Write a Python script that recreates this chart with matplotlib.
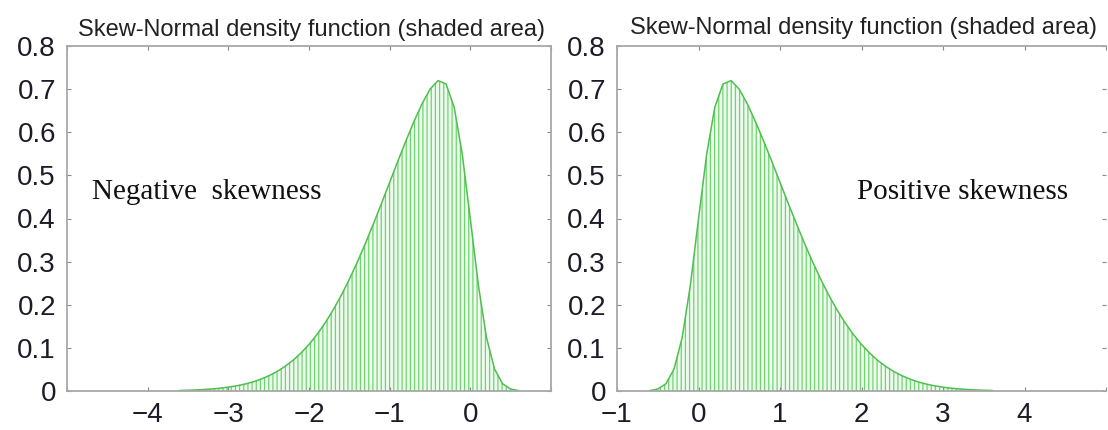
import matplotlib
matplotlib.use("Agg")
import matplotlib.pyplot as plt

# ---- data ----
x_pos = [-0.6, -0.5, -0.4, -0.3, -0.2, -0.1, 0.0, 0.1, 0.2, 0.3, 0.4, 0.5, 0.6, 0.7,
         0.8, 0.9, 1.0, 1.1, 1.2, 1.3, 1.4, 1.5, 1.6, 1.7, 1.8, 1.9, 2.0, 2.1, 2.2,
         2.3, 2.4, 2.5, 2.6, 2.7, 2.8, 2.9, 3.0, 3.1, 3.2, 3.3, 3.4, 3.5, 3.6]
y_pos = [0.0009, 0.0044, 0.0168, 0.0510, 0.1241, 0.2450, 0.3989, 0.5489, 0.6580,
         0.7118, 0.7198, 0.6998, 0.6655, 0.6244, 0.5794, 0.5322, 0.4839, 0.4357,
         0.3884, 0.3427, 0.2995, 0.2590, 0.2218, 0.1881, 0.1579, 0.1312, 0.1080,
         0.0880, 0.0709, 0.0567, 0.0448, 0.0351, 0.0272, 0.0208, 0.0158, 0.0119,
         0.0089, 0.0065, 0.0048, 0.0034, 0.0025, 0.0017, 0.0012]

x_neg = [-3.6, -3.5, -3.4, -3.3, -3.2, -3.1, -3.0, -2.9, -2.8, -2.7, -2.6, -2.5, -2.4,
         -2.3, -2.2, -2.1, -2.0, -1.9, -1.8, -1.7, -1.6, -1.5, -1.4, -1.3, -1.2, -1.1,
         -1.0, -0.9, -0.8, -0.7, -0.6, -0.5, -0.4, -0.3, -0.2, -0.1, 0.0, 0.1, 0.2,
         0.3, 0.4, 0.5, 0.6]
y_neg = [0.0012, 0.0017, 0.0025, 0.0034, 0.0048, 0.0065, 0.0089, 0.0119, 0.0158,
         0.0208, 0.0272, 0.0351, 0.0448, 0.0567, 0.0709, 0.0880, 0.1080, 0.1312,
         0.1579, 0.1881, 0.2218, 0.2590, 0.2995, 0.3427, 0.3884, 0.4357, 0.4839,
         0.5322, 0.5794, 0.6244, 0.6655, 0.6998, 0.7198, 0.7118, 0.6580, 0.5489,
         0.3989, 0.2450, 0.1241, 0.0510, 0.0168, 0.0044, 0.0009]

title_text = "Skew-Normal density function (shaded area)"
yticks = [0, 0.1, 0.2, 0.3, 0.4, 0.5, 0.6, 0.7, 0.8]
ytick_labels = ["0", "0.1", "0.2", "0.3", "0.4", "0.5", "0.6", "0.7", "0.8"]
xticks_left = [-5, -4, -3, -2, -1, 0, 1]
xlabels_left = ["", "\u22124", "\u22123", "\u22122", "\u22121", "0", ""]
xticks_right = [-1, 0, 1, 2, 3, 4, 5]
xlabels_right = ["\u22121", "0", "1", "2", "3", "4", ""]

plt.rcParams['font.family'] = ['Liberation Sans', 'DejaVu Sans']
plt.rcParams['hatch.linewidth'] = 0.9
plt.rcParams['hatch.color'] = '#6fd46f'

W, H = 1108, 430
fig = plt.figure(figsize=(W / 100, H / 100), dpi=100)

def px_axes(x0, x1, ytop, ybot):
    return fig.add_axes([x0 / W, (H - ybot) / H, (x1 - x0) / W, (ybot - ytop) / H])

axL = px_axes(67, 551, 46, 391)
axR = px_axes(617, 1106, 46, 391)

spine_c = '#a8a8a8'
for ax, xs, ys, xl, xt, xlab in [
        (axL, x_neg, y_neg, (-5, 1), xticks_left, xlabels_left),
        (axR, x_pos, y_pos, (-1, 5), xticks_right, xlabels_right)]:
    ax.fill_between(xs, ys, 0, facecolor='#eefaee', edgecolor='#6fd46f',
                    hatch='||||', linewidth=0)
    ax.plot(xs, ys, color='#4fbf4f', lw=1.1)
    ax.set_xlim(*xl)
    ax.set_ylim(0, 0.8)
    ax.set_xticks(xt)
    ax.set_xticklabels(xlab)
    ax.set_yticks(yticks)
    ax.set_yticklabels(ytick_labels)
    ax.tick_params(direction='in', length=3, width=0.8, color='#888888',
                   labelsize=20, labelcolor='#1c1c28', top=True, right=True, pad=8)
    for s in ax.spines.values():
        s.set_color(spine_c)
        s.set_linewidth(1.3)

axR.spines['right'].set_visible(False)

fig.text(312 / W, (H - 36) / H, title_text, fontsize=17, color='#222222',
         ha='center', va='baseline')
fig.text(864 / W, (H - 34) / H, title_text, fontsize=17, color='#222222',
         ha='center', va='baseline')

fig.text(92 / W, (H - 199) / H, "Negative  skewness", fontsize=21,
         family=['Liberation Serif', 'DejaVu Serif'], color='#111111',
         ha='left', va='baseline')
fig.text(857 / W, (H - 199) / H, "Positive skewness", fontsize=21,
         family=['Liberation Serif', 'DejaVu Serif'], color='#111111',
         ha='left', va='baseline')

fig.savefig("out.png", dpi=100)
